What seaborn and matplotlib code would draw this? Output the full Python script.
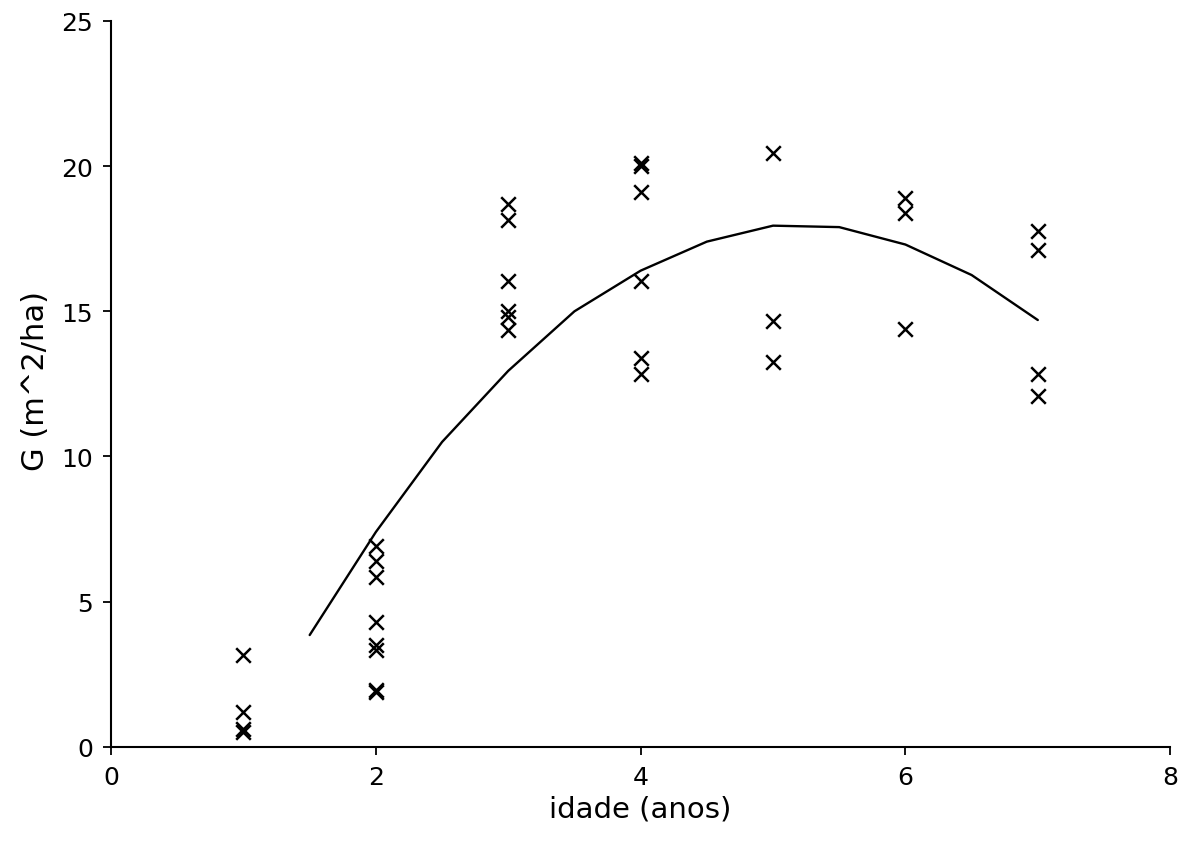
import numpy as np
import pandas as pd
import seaborn as sns
import matplotlib.pyplot as plt

sns.set_theme()
sns.set_style('ticks')
plt.rcParams['font.family'] = ['DejaVu Sans']

# observed basal area per age (anos)
idade_obs = [1, 1, 1, 1,
             2, 2, 2, 2, 2, 2, 2, 2,
             3, 3, 3, 3, 3, 3,
             4, 4, 4, 4, 4, 4,
             5, 5, 5,
             6, 6, 6,
             7, 7, 7, 7]
g_obs = [3.15, 1.2, 0.6, 0.5,
         6.9, 6.4, 5.85, 4.3, 3.5, 3.35, 1.95, 1.88,
         18.7, 18.15, 16.05, 15.0, 14.8, 14.35,
         20.1, 20.0, 19.1, 16.05, 13.4, 12.85,
         20.45, 14.65, 13.25,
         18.9, 18.4, 14.4,
         17.75, 17.1, 12.85, 12.1]

# fitted curve
idade_fit = [1.5, 2.0, 2.5, 3.0, 3.5, 4.0, 4.5, 5.0, 5.5, 6.0, 6.5, 7.0]
g_fit = [3.85, 7.4, 10.5, 12.95, 15.0, 16.4, 17.4, 17.95, 17.9, 17.3, 16.25, 14.7]

obs = pd.DataFrame({'idade': idade_obs, 'G': g_obs})
fit = pd.DataFrame({'idade': idade_fit, 'G': g_fit})

fig = plt.figure(figsize=(11.82, 8.45), dpi=100)
ax = fig.add_axes([0.094, 0.115, 0.896, 0.859])

sns.scatterplot(obs, x='idade', y='G', marker='x', s=110, color='black',
                linewidth=1.8, ax=ax, zorder=3)
sns.lineplot(fit, x='idade', y='G', color='black', linewidth=1.7, ax=ax)

ax.set_xlim(0, 8)
ax.set_ylim(0, 25)
ax.set_xticks([0, 2, 4, 6, 8])
ax.set_yticks([0, 5, 10, 15, 20, 25])
sns.despine(ax=ax)
for side in ['left', 'bottom']:
    ax.spines[side].set_color('black')
    ax.spines[side].set_linewidth(1.5)
ax.tick_params(direction='out', length=6, width=1.3, colors='black',
               labelsize=18, pad=7)
ax.set_xlabel('idade (anos)', fontsize=21, color='black', labelpad=4)
ax.set_ylabel('G (m^2/ha)', fontsize=22, color='black')
ax.yaxis.set_label_coords(-0.058, 0.505)

fig.savefig('out.png', dpi=100)
